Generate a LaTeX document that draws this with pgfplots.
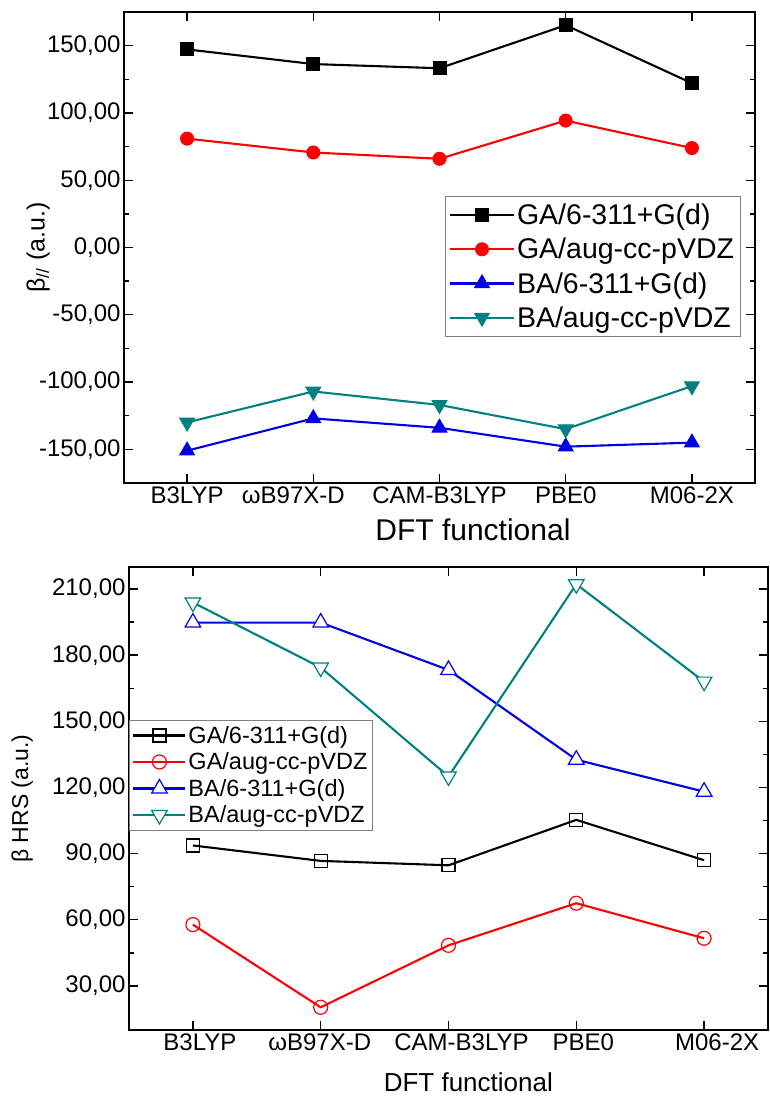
\documentclass[border=0pt]{standalone}
\usepackage{pgfplots}
\pgfplotsset{compat=1.18}
\usepackage{fontspec}
\setmainfont{Liberation Sans}
\definecolor{myblue}{RGB}{0,0,230}
\definecolor{myteal}{RGB}{0,128,128}
\definecolor{myred}{RGB}{255,0,0}
\begin{document}
\begin{tikzpicture}
\useasboundingbox (0,0) rectangle (770pt,1108pt);
\pgfplotsset{
  common/.style={
    scale only axis,
    xmin=-0.5, xmax=4.5,
    xtick={0,1,2,3,4},
    tick align=inside,
    major tick length=9pt, minor tick length=5pt,
    axis line style={line width=1.8pt},
    every tick/.append style={line width=1.4pt, black},
    minor y tick num=1,
    tick label style={font=\fontsize{24}{28}\selectfont},
    yticklabel style={/pgf/number format/.cd, fixed, fixed zerofill, precision=2, use comma, 1000 sep={}, assume math mode=true},
    legend cell align=left,
    every axis plot/.append style={line width=2.1pt},
  },
}
% ---------------- top axis
\begin{axis}[common,
  at={(124pt,625pt)}, anchor=south west,
  width=631pt, height=471pt,
  ymin=-175, ymax=175,
  ytick={-150,-100,-50,0,50,100,150},
  xticklabels={B3LYP,{ωB97X-D\hspace*{40pt}},CAM-B3LYP,PBE0,M06-2X},
  xlabel={DFT functional},
  xlabel style={font=\fontsize{30}{34}\selectfont, at={(axis description cs:0.553,0)}, anchor=center, yshift=-47pt},
  ylabel={β\textsubscript{//} (a.u.)},
  ylabel style={font=\fontsize{25}{30}\selectfont, at={(axis description cs:-0.136,0.5)}, anchor=center},
  legend style={at={(0.508,0.61)}, anchor=north west, draw=gray, line width=0.8pt,
    font=\fontsize{28.5}{32}\selectfont, row sep=8pt, inner ysep=6pt, inner xsep=4pt},
  legend image code/.code={\draw[mark repeat=2,mark phase=2,#1] plot coordinates {(0pt,0pt) (32pt,0pt) (64pt,0pt)};},
]
\addplot[black, mark=square*, mark size=6.5pt, mark options={line width=1pt}] coordinates {(0,147.2) (1,136.3) (2,133.2) (3,165.2) (4,122.1)};
\addlegendentry{GA/6-311+G(d)}
\addplot[myred, mark=*, mark size=6.5pt, mark options={line width=1pt}] coordinates {(0,80.9) (1,70.6) (2,65.9) (3,94.3) (4,73.9)};
\addlegendentry{GA/aug-cc-pVDZ}
\addplot[myblue, mark=triangle*, mark size=8.5pt, mark options={line width=1pt}] coordinates {(0,-151) (1,-127) (2,-134) (3,-148) (4,-145)};
\addlegendentry{BA/6-311+G(d)}
\addplot[myteal, mark=triangle*, mark size=8.5pt, mark options={rotate=180, line width=1pt}] coordinates {(0,-130) (1,-107) (2,-117) (3,-135) (4,-103)};
\addlegendentry{BA/aug-cc-pVDZ}
\end{axis}
% ---------------- bottom axis
\begin{axis}[common,
  at={(129pt,78pt)}, anchor=south west,
  width=639pt, height=463pt,
  ymin=10, ymax=220,
  ytick={30,60,90,120,150,180,210},
  xticklabels={B3LYP,{ωB97X-D\hspace*{16pt}},{\hspace*{12pt}CAM-B3LYP},PBE0,{\hspace*{12pt}M06-2X}},
  xticklabel style={xshift=7pt},
  xlabel={DFT functional},
  xlabel style={font=\fontsize{26}{30}\selectfont, at={(axis description cs:0.531,0)}, anchor=center, yshift=-52pt},
  ylabel={β HRS (a.u.)},
  ylabel style={font=\fontsize{23}{28}\selectfont, at={(axis description cs:-0.167,0.5)}, anchor=center},
  legend style={at={(0,0.67)}, anchor=north west, draw=gray, line width=0.8pt,
    font=\fontsize{23.5}{27}\selectfont, row sep=4pt, inner ysep=4pt, inner xsep=3pt},
  legend image code/.code={\draw[mark repeat=2,mark phase=2,#1] plot coordinates {(0pt,0pt) (26pt,0pt) (52pt,0pt)};},
]
\addplot[black, mark=square, mark size=6.5pt, mark options={fill=white, line width=1.2pt}] coordinates {(0,93.7) (1,86.7) (2,84.7) (3,105.3) (4,87.0)};
\addlegendentry{GA/6-311+G(d)}
\addplot[myred, mark=o, mark size=7pt, mark options={fill=white, line width=1.2pt}] coordinates {(0,57.8) (1,20.3) (2,48.4) (3,67.5) (4,51.6)};
\addlegendentry{GA/aug-cc-pVDZ}
\addplot[myblue, mark=triangle*, mark size=9pt, mark options={fill=white, line width=1.2pt}] coordinates {(0,194.8) (1,194.8) (2,173.3) (3,132.6) (4,118.1)};
\addlegendentry{BA/6-311+G(d)}
\addplot[myteal, mark=triangle*, mark size=9pt, mark options={fill=white, line width=1.2pt, rotate=180}] coordinates {(0,203.9) (1,174.4) (2,125.0) (3,212.2) (4,168.0)};
\addlegendentry{BA/aug-cc-pVDZ}
\end{axis}
\end{tikzpicture}
\end{document}
